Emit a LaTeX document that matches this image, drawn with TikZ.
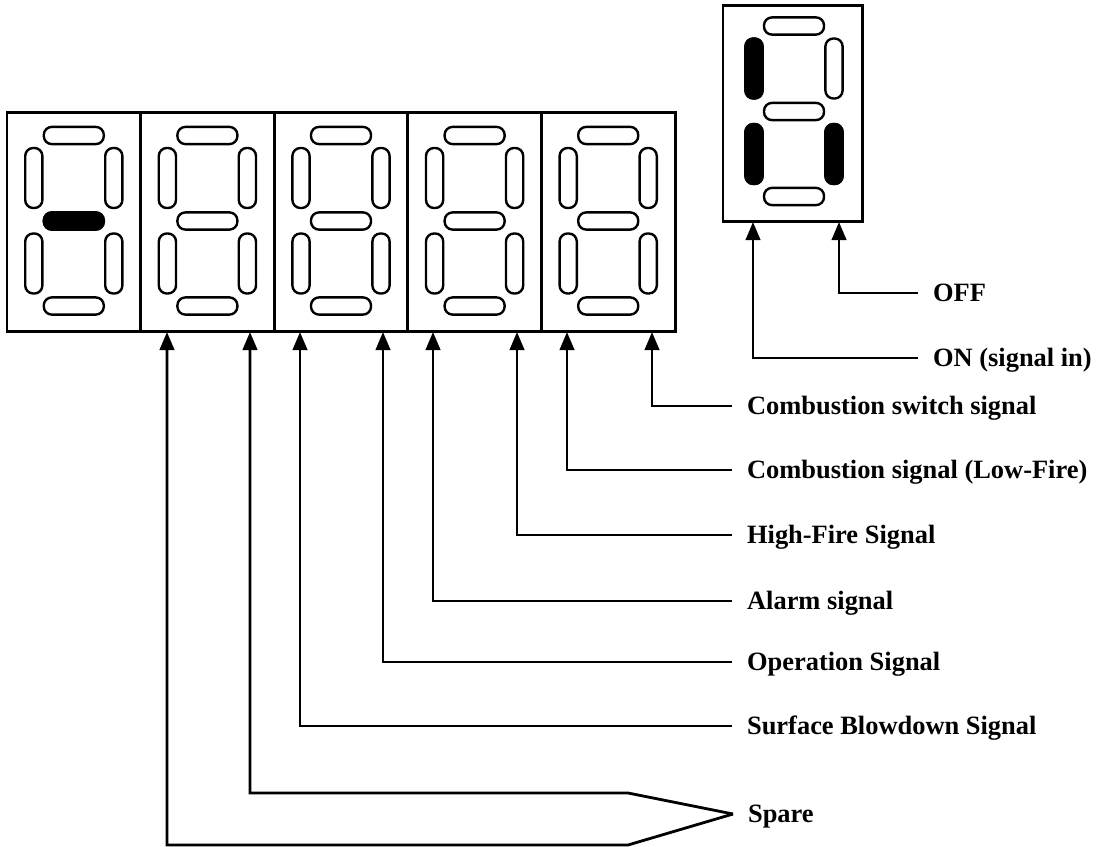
\documentclass[tikz,border=0pt]{standalone}
\usepackage{fontspec}
\setmainfont{Liberation Serif}
\usetikzlibrary{arrows.meta}

\tikzset{
  seg/.style={draw, line width=1.7pt, rounded corners=0.2cm, inner sep=0pt},
  hseg/.style={seg, minimum width=1.5cm, minimum height=0.43cm},
  vseg/.style={seg, minimum width=0.43cm, minimum height=1.5cm},
  lit/.style={fill=black},
  panel/.style={draw, line width=2.1pt, inner sep=0pt},
  sigline/.style={line width=2pt},
  sigarrow/.style={sigline, -{Triangle[length=0.45cm, width=0.36cm]}},
  sig/.style={font=\fontsize{18.8}{20}\selectfont\bfseries, anchor=west,
    text height=12.4pt, text depth=0pt, inner ysep=0pt, inner xsep=0.37cm}
}

% one seven-segment digit: name prefix, centre x, y of the middle bar
\newcommand{\segdigit}[3]{%
  \node[hseg] (#1a) at (#2, #3-85.5) {};
  \node[vseg] (#1f) at (#2-40, #3-43) {};
  \node[vseg] (#1b) at (#2+40, #3-43) {};
  \node[hseg] (#1g) at (#2, #3) {};
  \node[vseg] (#1e) at (#2-40, #3+42.5) {};
  \node[vseg] (#1c) at (#2+40, #3+42.5) {};
  \node[hseg] (#1d) at (#2, #3+85) {};
}

\begin{document}
\begin{tikzpicture}[x=0.025cm, y=-0.025cm]
  \useasboundingbox (0,0) rectangle (1097,847);

  % five-digit display
  \foreach \cx [count=\i] in {73.8, 207.4, 341, 474.6, 608.2} {
    \node[panel, minimum width=3.34cm, minimum height=5.45cm] (cell\i) at (\cx, 222) {};
    \segdigit{d\i}{\cx}{221}
  }
  \node[hseg, lit] at (d1g) {};

  % single digit
  \node[panel, minimum width=3.475cm, minimum height=5.375cm] (key) at (792.5, 113.5) {};
  \segdigit{k}{794}{111.5}
  \node[vseg, lit] at (kf) {};
  \node[vseg, lit] at (ke) {};
  \node[vseg, lit] at (kc) {};

  % arrow tips at the bottom edges
  \coordinate (p2a) at (167, 332);
  \coordinate (p2b) at (250, 332);
  \coordinate (p3a) at (300, 332);
  \coordinate (p3b) at (383, 332);
  \coordinate (p4a) at (433, 332);
  \coordinate (p4b) at (517, 332);
  \coordinate (p5a) at (567, 332);
  \coordinate (p5b) at (652, 332);
  \coordinate (q1) at (753, 222);
  \coordinate (q2) at (839, 222);

  % labels
  \node[sig] (off) at (918, 293) {OFF};
  \node[sig] (on) at (918, 358) {ON (signal in)};
  \node[sig] (cs) at (732, 406) {Combustion switch signal};
  \node[sig] (cl) at (732, 470) {Combustion signal (Low-Fire)};
  \node[sig] (hf) at (732, 535) {High-Fire Signal};
  \node[sig] (al) at (732, 601) {Alarm signal};
  \node[sig] (op) at (732, 662) {Operation Signal};
  \node[sig] (sb) at (732, 726) {Surface Blowdown Signal};
  \node[sig] (spare) at (733, 814) {Spare};
  \coordinate (sp1) at (628, 793);
  \coordinate (sp2) at (628, 845);

  % connectors
  \draw[sigarrow] (off.west) -| (q2);
  \draw[sigarrow] (on.west) -| (q1);
  \draw[sigarrow] (cs.west) -| (p5b);
  \draw[sigarrow] (cl.west) -| (p5a);
  \draw[sigarrow] (hf.west) -| (p4b);
  \draw[sigarrow] (al.west) -| (p4a);
  \draw[sigarrow] (op.west) -| (p3b);
  \draw[sigarrow] (sb.west) -| (p3a);
  \draw[sigarrow] (spare.west) -- (sp1) -| (p2b);
  \draw[sigarrow] (spare.west) -- (sp2) -| (p2a);
\end{tikzpicture}
\end{document}
